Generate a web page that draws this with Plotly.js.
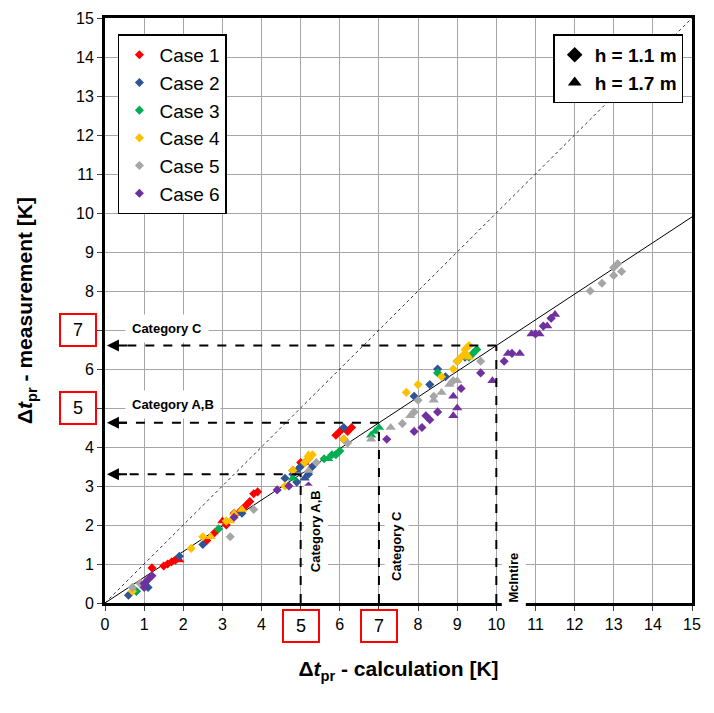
<html><head><script src="https://cdn.plot.ly/plotly-3.0.1.min.js"></script></head><body style="margin:0"><div id="c" style="width:714px;height:713px"></div><script>
const c1d=[[1.2,0.9],[1.5,0.95],[1.6,1.0],[1.7,1.05],[1.8,1.1],[2.6,1.6],[2.8,1.8],[3.1,2.0],[3.3,2.3],[3.5,2.4],[3.6,2.5],[3.7,2.6],[3.8,2.8],[3.9,2.85],[4.8,3.4],[5.0,3.6],[5.2,3.7],[5.9,4.3],[6.0,4.4],[6.1,4.2],[6.2,4.4],[6.3,4.5]];
const c1t=[[1.9,1.1],[3.0,2.1],[3.4,2.3],[5.1,3.6]];
const c2d=[[0.6,0.2],[0.8,0.3],[1.1,0.4],[1.9,1.2],[2.5,1.5],[3.5,2.3],[4.6,3.2],[4.8,3.3],[4.9,3.1],[5.0,3.5],[5.1,3.6],[5.2,3.3],[5.3,3.5],[6.1,4.5],[7.9,5.3],[8.3,5.6],[8.5,6.0],[8.7,5.8],[9.2,6.3]];
const c2t=[[4.9,3.4],[5.1,3.2]];
const c3d=[[0.8,0.3],[2.9,1.9],[5.6,3.7],[5.8,3.8],[5.9,3.8],[6.0,3.9],[8.5,5.9],[9.0,6.2],[9.3,6.3],[9.4,6.4],[9.5,6.5]];
const c3t=[[4.8,3.2],[5.7,3.7],[6.8,4.3],[6.9,4.4],[7.0,4.5]];
const c4d=[[0.7,0.3],[0.9,0.5],[2.2,1.4],[2.5,1.7],[3.1,2.1],[4.6,3.0],[4.8,3.4],[5.1,3.6],[5.2,3.7],[5.3,3.8],[6.1,4.2],[7.7,5.4],[8.0,5.6],[8.6,5.8],[8.9,6.0],[9.0,6.2],[9.1,6.3],[9.2,6.4],[9.2,6.5],[9.3,6.6]];
const c4t=[[2.7,1.7],[3.2,2.1],[3.3,2.3],[3.5,2.4],[5.2,3.8],[9.3,6.3]];
const c5d=[[0.7,0.4],[0.9,0.5],[3.2,1.7],[3.8,2.4],[5.4,3.6],[6.2,4.1],[7.6,4.6],[7.9,4.9],[8.0,5.2],[8.4,5.3],[8.9,5.7],[9.6,6.2],[11.4,7.3],[12.4,8.0],[12.7,8.2],[13.0,8.4],[13.0,8.6],[13.1,8.7],[13.2,8.5]];
const c5t=[[5.2,3.4],[6.8,4.2],[7.3,4.5],[7.8,4.8],[8.4,5.2],[8.6,5.4],[8.8,5.6],[9.0,5.7]];
const c6d=[[1.0,0.4],[1.0,0.5],[1.1,0.6],[1.2,0.7],[3.3,2.2],[4.4,2.9],[4.7,3.0],[5.2,3.0],[7.2,4.2],[7.9,4.4],[8.1,4.5],[8.2,4.8],[8.3,4.7],[8.5,4.9],[9.1,5.5],[9.6,5.9],[10.2,6.2],[10.4,6.4],[11.0,6.9],[11.2,7.1],[11.4,7.3]];
const c6t=[[8.9,4.8],[9.0,5.0],[8.9,5.3],[9.9,5.7],[10.3,6.4],[10.6,6.4],[10.9,6.9],[11.1,6.9],[11.3,7.1],[11.5,7.4]];
const cases=['Case 1','Case 2','Case 3','Case 4','Case 5','Case 6'];
const colors=['#ff0000','#2f5597','#00b050','#ffc000','#a6a6a6','#7030a0'];
const dia=[c1d,c2d,c3d,c4d,c5d,c6d], tri=[c1t,c2t,c3t,c4t,c5t,c6t];
const slope=0.66;
const xTicks=[0,1,2,3,4,5,6,7,8,9,10,11,12,13,14,15];
const traces=[];
traces.push({x:[0,15],y:[0,15],mode:'lines',line:{color:'#000',width:0.8,dash:'dot'},showlegend:false,hoverinfo:'skip'});
traces.push({x:[0,15],y:[0,15*slope],mode:'lines',line:{color:'#000',width:1},showlegend:false,hoverinfo:'skip'});
for(let i=0;i<6;i++){
 traces.push({x:dia[i].map(p=>p[0]),y:dia[i].map(p=>p[1]),mode:'markers',name:cases[i],marker:{symbol:'diamond',size:7,color:colors[i]}});
 traces.push({x:tri[i].map(p=>p[0]),y:tri[i].map(p=>p[1]),mode:'markers',showlegend:false,marker:{symbol:'triangle-up',size:9,color:colors[i]}});
}
traces.push({x:[null],y:[null],mode:'markers',name:'<b>h = 1.1 m</b>',legend:'legend2',marker:{symbol:'diamond',size:16,color:'#000'}});
traces.push({x:[null],y:[null],mode:'markers',name:'<b>h = 1.7 m</b>',legend:'legend2',marker:{symbol:'triangle-up',size:16,color:'#000'}});
const shapes=[],ann=[];
[[5,5*slope],[7,7*slope],[10,10*slope]].forEach(([x,y])=>{
 shapes.push({type:'line',x0:x,x1:x,y0:0,y1:y,line:{dash:'dash',width:2,color:'#000'}});
 shapes.push({type:'line',x0:x,x1:0.15,y0:y,y1:y,line:{dash:'dash',width:2,color:'#000'}});
 ann.push({x:0.05,y:y,ax:0.6,ay:y,axref:'x',ayref:'y',xref:'x',yref:'y',text:'',showarrow:true,arrowhead:2,arrowsize:1.2,arrowwidth:2,arrowcolor:'#000'});
});
const bf={family:'Liberation Sans, Arial',size:13,color:'#000'};
ann.push({x:0.5,y:7.05,xref:'x',yref:'y',text:'<b>Category C</b>',showarrow:false,xanchor:'left',bgcolor:'#fff',borderpad:6,font:bf});
ann.push({x:0.5,y:5.1,xref:'x',yref:'y',text:'<b>Category A,B</b>',showarrow:false,xanchor:'left',bgcolor:'#fff',borderpad:6,font:bf});
ann.push({x:5.4,y:1.85,xref:'x',yref:'y',text:'<b>Category A,B</b>',textangle:-90,showarrow:false,bgcolor:'#fff',borderpad:4,font:bf});
ann.push({x:7.45,y:1.45,xref:'x',yref:'y',text:'<b>Category C</b>',textangle:-90,showarrow:false,bgcolor:'#fff',borderpad:4,font:bf});
ann.push({x:10.45,y:0.65,xref:'x',yref:'y',text:'<b>McIntire</b>',textangle:-90,showarrow:false,bgcolor:'#fff',borderpad:4,font:bf});
const tf={family:'Liberation Sans, Arial',size:18,color:'#000'};
[5,7].forEach(v=>{
 ann.push({x:v,y:0,xref:'x',yref:'y',yanchor:'top',yshift:-6,text:String(v),showarrow:false,bordercolor:'#ff0000',borderwidth:2,bgcolor:'#fff',borderpad:5,width:24,font:tf});
 ann.push({x:0,y:v,xref:'x',yref:'y',xanchor:'right',xshift:-8,text:String(v),showarrow:false,bordercolor:'#ff0000',borderwidth:2,bgcolor:'#fff',borderpad:5,width:24,font:tf});
});
const layout={width:714,height:713,margin:{l:105,r:22,t:18,b:110},plot_bgcolor:'#fff',paper_bgcolor:'#fff',
 font:{family:'Liberation Sans, Arial',color:'#000'},
 xaxis:{range:[0,15],tickvals:xTicks,showgrid:true,gridcolor:'#a6a6a6',zeroline:false,showline:true,linewidth:3,linecolor:'#000',mirror:true,ticks:'outside',ticklen:5,tickfont:{size:16},
  title:{text:'<b>Δ<i>t</i><sub>pr</sub> - calculation [K]</b>',font:{size:21},standoff:30}},
 yaxis:{range:[0,15],tickvals:xTicks,showgrid:true,gridcolor:'#a6a6a6',zeroline:false,showline:true,linewidth:3,linecolor:'#000',mirror:true,ticks:'outside',ticklen:5,tickfont:{size:16},
  title:{text:'<b>Δ<i>t</i><sub>pr</sub> - measurement [K]</b>',font:{size:21},standoff:38}},
 legend:{x:0.022,y:0.972,xanchor:'left',yanchor:'top',bordercolor:'#000',borderwidth:1.5,bgcolor:'#fff',font:{size:19},itemsizing:'trace',tracegroupgap:0},
 legend2:{x:0.985,y:0.972,xanchor:'right',yanchor:'top',bordercolor:'#000',borderwidth:1.5,bgcolor:'#fff',font:{size:19},itemsizing:'constant'},
 shapes:shapes,annotations:ann,showlegend:true};
Plotly.newPlot('c',traces,layout,{displayModeBar:false});
</script></body></html>
